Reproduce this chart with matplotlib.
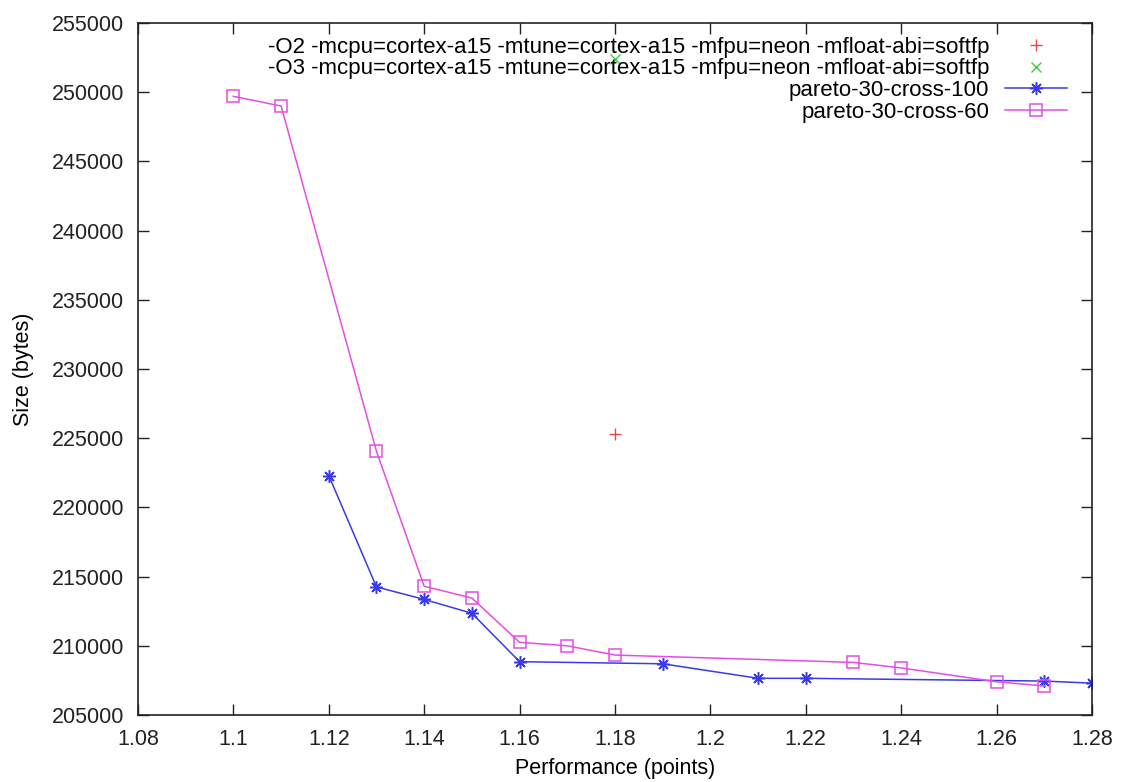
"""
Pareto front: code size vs performance for cortex-a15 flag sets.
"""
import matplotlib
matplotlib.use("Agg")
import matplotlib.pyplot as plt
from matplotlib.ticker import FuncFormatter, MultipleLocator

plt.rcParams['font.family'] = ['Liberation Sans', 'DejaVu Sans']

# Reference builds (single points)
o2_perf = [1.18]
o2_size = [225300]
o3_perf = [1.18]
o3_size = [252400]

# pareto-30-cross-100
cross100_perf = [1.12, 1.13, 1.14, 1.15, 1.16, 1.19, 1.21, 1.22, 1.27, 1.28]
cross100_size = [222300, 214250, 213350, 212350, 208850, 208700, 207650, 207650, 207450, 207300]

# pareto-30-cross-60
cross60_perf = [1.10, 1.11, 1.13, 1.14, 1.15, 1.16, 1.17, 1.18, 1.23, 1.24, 1.26, 1.27]
cross60_size = [249700, 249000, 224050, 214300, 213450, 210250, 210000, 209330, 208800, 208400, 207400, 207100]

labels = [
    "-O2 -mcpu=cortex-a15 -mtune=cortex-a15 -mfpu=neon -mfloat-abi=softfp",
    "-O3 -mcpu=cortex-a15 -mtune=cortex-a15 -mfpu=neon -mfloat-abi=softfp",
    "pareto-30-cross-100",
    "pareto-30-cross-60",
]

fig = plt.figure(figsize=(11.21, 7.82), dpi=100)
ax = fig.add_axes([0.1231, 0.0857, 0.8510, 0.8849])

ax.plot(o2_perf, o2_size, linestyle='none', marker='+', color='#ee4444',
        markersize=8, markeredgewidth=1.0, label=labels[0])
ax.plot(o3_perf, o3_size, linestyle='none', marker='x', color='#44cc44',
        markersize=7, markeredgewidth=1.0, label=labels[1])
ax.plot(cross100_perf, cross100_size, color='#3a3ae8', linewidth=1.1,
        marker=(8, 2, 0), markersize=9, markeredgewidth=1.1, label=labels[2])
ax.plot(cross60_perf, cross60_size, color='#e44ee4', linewidth=1.1,
        marker='s', markersize=8.5, markerfacecolor='none', markeredgewidth=1.1,
        label=labels[3])

ax.set_xlim(1.08, 1.28)
ax.set_ylim(205000, 255000)
ax.xaxis.set_major_locator(MultipleLocator(0.02))
ax.yaxis.set_major_locator(MultipleLocator(5000))
ax.xaxis.set_major_formatter(FuncFormatter(lambda v, p: f"{v:g}"))
ax.yaxis.set_major_formatter(FuncFormatter(lambda v, p: f"{int(round(v))}"))

ax.tick_params(direction='in', length=8, width=1.0, top=True, right=True,
               labelsize=15.5, pad=10, colors='#222222')
for sp in ax.spines.values():
    sp.set_linewidth(1.2)
    sp.set_color('#222222')

ax.set_xlabel("Performance (points)", fontsize=15.5, labelpad=6)
ax.set_ylabel("Size (bytes)", fontsize=15.5, labelpad=12.5)

ax.legend(loc='upper right', bbox_to_anchor=(0.974, 0.980), frameon=False,
          markerfirst=False, fontsize=16, handlelength=2.8, handletextpad=0.7,
          labelspacing=0.03, borderaxespad=0.0, borderpad=0.0)

fig.savefig("out.png", dpi=100)
